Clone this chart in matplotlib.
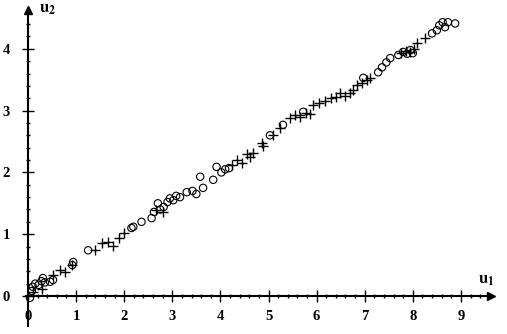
import matplotlib
matplotlib.use("Agg")
import matplotlib.pyplot as plt
import numpy as np

# Circle series (u1, u2)
circ_u1 = [0.04, 0.10, 0.08, 0.15, 0.22, 0.28, 0.31, 0.35, 0.46, 0.52, 0.94, 0.92,
           1.25, 2.15, 2.19, 2.36, 2.57, 2.62, 2.70, 2.75, 2.82, 2.90, 2.95, 3.02,
           3.08, 3.16, 3.30, 3.42, 3.50, 3.58, 3.64, 3.85, 3.92, 4.02, 4.10, 4.18,
           5.03, 5.30, 5.72, 6.97, 7.28, 7.36, 7.45, 7.53, 7.70, 7.80, 7.88, 7.95,
           8.00, 8.40, 8.50, 8.55, 8.62, 8.67, 8.73, 8.88]
circ_u2 = [-0.03, 0.15, 0.08, 0.20, 0.18, 0.24, 0.29, 0.22, 0.23, 0.26, 0.55, 0.50,
           0.74, 1.10, 1.12, 1.20, 1.26, 1.36, 1.50, 1.40, 1.44, 1.52, 1.58, 1.55,
           1.62, 1.60, 1.68, 1.70, 1.65, 1.93, 1.75, 1.88, 2.09, 2.00, 2.05, 2.07,
           2.60, 2.77, 2.98, 3.53, 3.62, 3.70, 3.78, 3.85, 3.90, 3.95, 3.92, 3.98,
           3.93, 4.25, 4.30, 4.38, 4.43, 4.35, 4.43, 4.41]

# Plus series (u1, u2)
plus_u1 = [0.10, 0.30, 0.52, 0.67, 0.77, 0.91, 1.39, 1.53, 1.66, 1.77, 1.90, 2.00,
           2.67, 2.80, 4.25, 4.35, 4.45, 4.55, 4.62, 4.68, 4.86, 4.89, 5.10, 5.24,
           5.45, 5.55, 5.65, 5.78, 5.86, 5.93, 6.05, 6.18, 6.30, 6.40, 6.49, 6.60,
           6.70, 6.76, 6.85, 6.95, 7.05, 7.11, 7.75, 7.85, 7.95, 8.03, 8.09, 8.25]
plus_u2 = [0.06, 0.12, 0.34, 0.42, 0.39, 0.50, 0.74, 0.86, 0.88, 0.81, 0.94, 1.02,
           1.39, 1.36, 2.12, 2.20, 2.15, 2.30, 2.25, 2.31, 2.47, 2.42, 2.60, 2.72,
           2.88, 2.93, 2.90, 2.96, 2.94, 3.09, 3.12, 3.15, 3.20, 3.22, 3.28, 3.24,
           3.28, 3.33, 3.41, 3.45, 3.50, 3.53, 3.93, 3.97, 3.95, 4.00, 4.10, 4.17]

x_ticks = [0, 1, 2, 3, 4, 5, 6, 7, 8, 9]
y_ticks = [0, 1, 2, 3, 4]

W, H = 507, 334
fig = plt.figure(figsize=(W / 100, H / 100), dpi=100)
ax = fig.add_axes([0, 0, 1, 1])
ppx, ppy = 48.1, 61.8
x0, y0 = 28, 296
ax.set_xlim(-x0 / ppx, (W - x0) / ppx)
ax.set_ylim(-(H - y0) / ppy, y0 / ppy)

for s in ['top', 'right']:
    ax.spines[s].set_visible(False)
ax.spines['left'].set_position(('data', 0))
ax.spines['bottom'].set_position(('data', 0))
ax.spines['left'].set_bounds(-0.49, 4.62)
ax.spines['bottom'].set_bounds(-0.05, 9.62)
ax.spines['left'].set_linewidth(1.5)
ax.spines['bottom'].set_linewidth(1.5)

ax.set_xticks(x_ticks)
ax.set_yticks(y_ticks)
ax.set_xticks(np.arange(0.2, 9.6, 0.2), minor=True)
ax.set_yticks(np.arange(0.2, 4.6, 0.2), minor=True)
fp = dict(family='Liberation Serif', weight='bold', size=10.5)
ax.set_xticklabels([str(t) for t in x_ticks], fontdict=fp)
ax.set_yticklabels([str(t) for t in y_ticks], fontdict=fp)
ax.tick_params(axis='both', which='major', direction='inout', length=8, width=1.0)
ax.tick_params(axis='both', which='minor', direction='inout', length=3.5, width=1.0)
ax.tick_params(axis='x', which='major', pad=6)
ax.tick_params(axis='y', which='major', pad=9)

# arrow heads
ax.plot([9.62], [0], marker='>', color='black', markersize=6, clip_on=False)
ax.plot([0], [4.62], marker='^', color='black', markersize=6, clip_on=False)

ax.scatter(circ_u1, circ_u2, s=28, facecolors='none', edgecolors='black', linewidths=0.8,
           marker='o', zorder=3)
ax.scatter(plus_u1, plus_u2, s=55, color='black', linewidths=1.0, marker='+', zorder=3)

plt.rcParams['mathtext.fontset'] = 'stix'
ax.text(0.22, 4.66, r'$\mathbf{u}_\mathbf{2}$', fontsize=12, ha='left', va='center')
ax.text(9.35, 0.27, r'$\mathbf{u}_\mathbf{1}$', fontsize=12, ha='left', va='center')

fig.savefig('out.png', dpi=100)
